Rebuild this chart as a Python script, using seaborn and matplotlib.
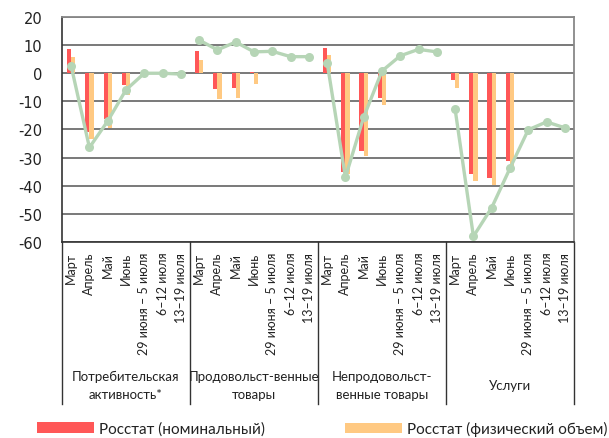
import matplotlib
matplotlib.use("Agg")
import matplotlib.pyplot as plt
import matplotlib.transforms as mtransforms
from matplotlib.patches import Patch
import pandas as pd
import seaborn as sns

groups = ["Потребительская\nактивность*", "Продовольст-венные\nтовары",
          "Непродовольст-\nвенные товары", "Услуги"]
periods = ["Март", "Апрель", "Май", "Июнь", "29 июня – 5 июля", "6–12 июля", "13–19 июля"]
months = periods[:4]

# Росстат, % г/г
nominal = [[8.5, -21.0, -16.3, -4.3],
           [7.8, -5.7, -5.2, 0.4],
           [9.0, -35.0, -27.6, -8.8],
           [-2.4, -35.9, -37.4, -31.2]]
physical = [[5.7, -23.4, -19.4, -7.8],
            [4.7, -9.2, -8.8, -3.8],
            [6.4, -35.9, -29.3, -11.4],
            [-5.4, -38.2, -39.8, -33.0]]
# green line (all 7 periods)
activity = [[2.6, -26.4, -17.0, -5.9, 0.0, 0.0, -0.3],
            [11.8, 8.3, 11.1, 7.6, 7.8, 5.9, 5.9],
            [3.8, -37.0, -15.6, 0.8, 6.2, 8.5, 7.6],
            [-12.8, -58.0, -47.8, -33.8, -20.1, -17.3, -19.4]]

RED = "#ff5757"
ORANGE = "#ffc982"
GREEN = "#b6d5b6"
TEXT = "#222222"

plt.rcParams["font.family"] = ["Lato", "DejaVu Sans"]

n_per = len(periods)
bar_rows, line_rows = [], []
for g, grp in enumerate(groups):
    for i, m in enumerate(months):
        idx = g * n_per + i
        bar_rows.append({"idx": idx, "series": "nom", "value": nominal[g][i]})
        bar_rows.append({"idx": idx, "series": "phys", "value": physical[g][i]})
    for i, p in enumerate(periods):
        line_rows.append({"idx": g * n_per + i, "group": g, "value": activity[g][i]})
bars = pd.DataFrame(bar_rows)
line = pd.DataFrame(line_rows)
n_total = n_per * len(groups)

fig = plt.figure(figsize=(6.09, 4.39), dpi=100)
ax = fig.add_axes([0.1018, 0.4465, 0.8407, 0.5125])

for y in range(-60, 21, 10):
    ax.axhline(y, color="#555555", lw=1.1, zorder=0)

sns.barplot(data=bars, x="idx", y="value", hue="series", order=list(range(n_total)),
            hue_order=["nom", "phys"], palette=[RED, ORANGE], width=0.46,
            saturation=1, legend=False, ax=ax, zorder=2)
sns.lineplot(data=line, x="idx", y="value", units="group", estimator=None,
             color=GREEN, lw=2.4, marker="o", markersize=6.5, markeredgewidth=0,
             ax=ax, zorder=3)

ax.set_ylim(-60, 20)
ax.set_xlim(-0.5, n_total - 0.5)
ax.set_yticks(range(-60, 21, 10))
ax.tick_params(axis="y", length=0, pad=14, labelsize=10.5, labelcolor=TEXT)
ax.set_yticklabels([str(v) for v in range(-60, 21, 10)], family="DejaVu Sans")
ax.set_xticks(range(n_total))
ax.set_xticklabels(periods * len(groups), rotation=90, va="top", ha="center",
                   fontsize=9, color=TEXT)
ax.tick_params(axis="x", length=0, pad=7)
ax.set_xlabel("")
ax.set_ylabel("")

for side in ["top", "right"]:
    ax.spines[side].set_color("#888888")
    ax.spines[side].set_linewidth(1.3)
for side in ["left", "bottom"]:
    ax.spines[side].set_color("#333333")
    ax.spines[side].set_linewidth(1.2)

trans = mtransforms.blended_transform_factory(ax.transData, ax.transAxes)
for g in range(len(groups) + 1):
    xb = g * n_per - 0.5
    ax.plot([xb, xb], [0, -0.72], transform=trans, color="#333333", lw=1.0, clip_on=False)
for g, grp in enumerate(groups):
    xc = g * n_per + (n_per - 1) / 2
    ax.text(xc, -0.636, grp, transform=trans, ha="center", va="center",
            fontsize=9.5, color=TEXT, linespacing=1.55)

h1 = Patch(facecolor=RED, edgecolor="none")
h2 = Patch(facecolor=ORANGE, edgecolor="none")
leg_kw = dict(loc="center left", frameon=False, borderpad=0, borderaxespad=0,
              handlelength=3.7, handleheight=0.7, handletextpad=0.35,
              prop={"size": 11})
leg1 = fig.legend([h1], ["Росстат (номинальный)"], bbox_to_anchor=(37 / 609, 0.021), **leg_kw)
leg2 = fig.legend([h2], ["Росстат (физический объем)"], bbox_to_anchor=(345 / 609, 0.021), **leg_kw)
for leg in (leg1, leg2):
    for t in leg.get_texts():
        t.set_color(TEXT)

fig.savefig("out.png", dpi=100)
